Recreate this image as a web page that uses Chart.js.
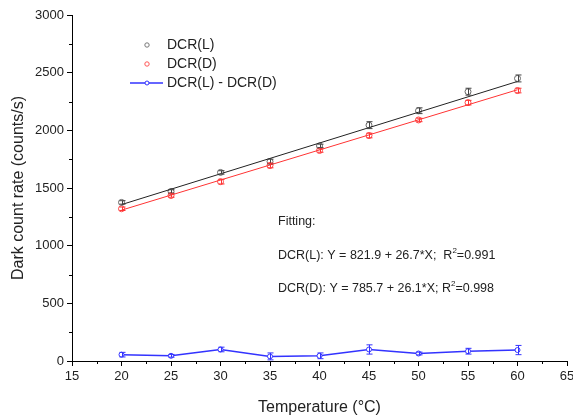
<!DOCTYPE html>
<html><head><meta charset="utf-8">
<script src="https://cdn.jsdelivr.net/npm/chart.js@4"></script>
<style>html,body{margin:0;padding:0;background:#fff}#wrap{width:573px;height:417px}</style>
</head><body><div id="wrap"><canvas id="c" width="573" height="417"></canvas></div>
<script>
const temperatures = [20, 25, 30, 35, 40, 45, 50, 55, 60];
const dcrL = [1375, 1470, 1635, 1730, 1865, 2045, 2170, 2335, 2450];
const dcrLErr = [15, 15, 15, 20, 15, 30, 25, 30, 30];
const dcrD = [1320, 1435, 1555, 1695, 1825, 1955, 2090, 2240, 2345];
const dcrDErr = [15, 15, 20, 20, 15, 20, 15, 20, 20];
const diff = [55, 45, 100, 40, 45, 100, 65, 85, 95];
const diffErr = [20, 12, 20, 30, 25, 40, 12, 25, 40];
const fitX = [20, 60];
const fitL = [1356, 2424];
const fitD = [1308, 2352];
const xTicks = [15, 20, 25, 30, 35, 40, 45, 50, 55, 60, 65];
const yTicks = [0, 500, 1000, 1500, 2000, 2500, 3000];
const legendLabels = ['DCR(L)', 'DCR(D)', 'DCR(L) - DCR(D)'];
const fitTexts = ['Fitting:', 'DCR(L): Y = 821.9 + 26.7*X;  R', 'DCR(D): Y = 785.7 + 26.1*X; R'];
const r2Values = ['=0.991', '=0.998'];

const FONT = 'Liberation Sans, Arial, sans-serif';
const pts = (xs, ys) => xs.map((x, i) => ({x: x, y: ys[i]}));

const errorPlugin = {
  id: 'extras',
  afterDatasetsDraw(chart) {
    const ctx = chart.ctx, xs = chart.scales.x, ys = chart.scales.y;
    const sets = [[dcrL, dcrLErr, '#444'], [dcrD, dcrDErr, '#ff3333'], [diff, diffErr, '#3333ff']];
    ctx.save();
    ctx.lineWidth = 1;
    sets.forEach(([vals, errs, col]) => {
      ctx.strokeStyle = col;
      vals.forEach((v, i) => {
        const px = Math.round(xs.getPixelForValue(temperatures[i])) + 0.5;
        const t = ys.getPixelForValue(v + errs[i]), b = ys.getPixelForValue(v - errs[i]);
        ctx.beginPath();
        ctx.moveTo(px, t); ctx.lineTo(px, b);
        ctx.moveTo(px - 3, t); ctx.lineTo(px + 3, t);
        ctx.moveTo(px - 3, b); ctx.lineTo(px + 3, b);
        ctx.stroke();
      });
    });
    // minor ticks
    ctx.strokeStyle = '#000';
    for (let v = 250; v < 3000; v += 500) {
      const py = Math.round(ys.getPixelForValue(v)) + 0.5;
      ctx.beginPath(); ctx.moveTo(xs.left - 3, py); ctx.lineTo(xs.left, py); ctx.stroke();
    }
    for (let v = 17.5; v < 65; v += 5) {
      const px = Math.round(xs.getPixelForValue(v)) + 0.5;
      ctx.beginPath(); ctx.moveTo(px, ys.bottom); ctx.lineTo(px, ys.bottom + 3); ctx.stroke();
    }
    // legend
    ctx.font = '14px ' + FONT;
    ctx.fillStyle = '#222';
    ctx.textBaseline = 'middle';
    const ly = [45, 64, 83];
    legendLabels.forEach((l, i) => ctx.fillText(l, 167, ly[i]));
    ctx.lineWidth = 1;
    ctx.strokeStyle = '#777';
    ctx.beginPath(); ctx.arc(147, ly[0], 2.2, 0, Math.PI * 2); ctx.stroke();
    ctx.strokeStyle = '#ff5555';
    ctx.beginPath(); ctx.arc(147, ly[1], 2.2, 0, Math.PI * 2); ctx.stroke();
    ctx.strokeStyle = '#3333ff';
    ctx.lineWidth = 1.5;
    ctx.beginPath(); ctx.moveTo(130, ly[2]); ctx.lineTo(163, ly[2]); ctx.stroke();
    ctx.lineWidth = 1;
    ctx.fillStyle = '#fff';
    ctx.beginPath(); ctx.arc(147, ly[2], 2, 0, Math.PI * 2); ctx.fill(); ctx.stroke();
    // fitting text
    ctx.fillStyle = '#222';
    const FS = 12.5;
    ctx.font = FS + 'px ' + FONT;
    ctx.fillText(fitTexts[0], 278, 222);
    const fy = [256, 289];
    [1, 2].forEach((k, j) => {
      ctx.font = FS + 'px ' + FONT;
      const w = ctx.measureText(fitTexts[k]).width;
      ctx.fillText(fitTexts[k], 278, fy[j]);
      ctx.font = '8px ' + FONT;
      ctx.fillText('2', 278 + w, fy[j] - 5);
      const w2 = ctx.measureText('2').width;
      ctx.font = FS + 'px ' + FONT;
      ctx.fillText(r2Values[j], 278 + w + w2, fy[j]);
    });
    ctx.restore();
  }
};

new Chart(document.getElementById('c'), {
  type: 'scatter',
  data: {
    datasets: [
      {label: 'fitL', data: pts(fitX, fitL), showLine: true, borderColor: '#222', borderWidth: 1, pointRadius: 0},
      {label: 'fitD', data: pts(fitX, fitD), showLine: true, borderColor: '#ff3333', borderWidth: 1, pointRadius: 0},
      {label: legendLabels[0], data: pts(temperatures, dcrL), showLine: false, borderColor: '#666', backgroundColor: 'rgba(0,0,0,0)', borderWidth: 1, pointRadius: 3},
      {label: legendLabels[1], data: pts(temperatures, dcrD), showLine: false, borderColor: '#ff4444', backgroundColor: 'rgba(0,0,0,0)', borderWidth: 1, pointRadius: 3},
      {label: legendLabels[2], data: pts(temperatures, diff), showLine: true, borderColor: '#3333ff', borderWidth: 1.5, pointBorderWidth: 1, backgroundColor: '#fff', pointBackgroundColor: '#fff', pointRadius: 2.5}
    ]
  },
  options: {
    responsive: false,
    animation: false,
    devicePixelRatio: 1,
    layout: {padding: {top: 15, right: 6, left: 0, bottom: 0}},
    plugins: {legend: {display: false}, tooltip: {enabled: false}},
    scales: {
      x: {
        type: 'linear', min: 15, max: 65,
        afterBuildTicks: s => { s.ticks = xTicks.map(v => ({value: v})); },
        ticks: {color: '#222', font: {size: 13, family: FONT}, padding: 3, maxRotation: 0, autoSkip: false, callback: v => String(v)},
        grid: {drawOnChartArea: false, tickLength: 5, color: '#000', tickColor: '#000'},
        border: {color: '#000', width: 1},
        title: {display: true, text: 'Temperature (\u00B0C)', color: '#222', font: {size: 16, family: FONT}, padding: {top: 4, bottom: 0}},
        afterFit: s => { s.height = 56; s.paddingLeft = 0; s.paddingRight = 0; }
      },
      y: {
        min: 0, max: 3000,
        afterBuildTicks: s => { s.ticks = yTicks.map(v => ({value: v})); },
        ticks: {color: '#222', font: {size: 13, family: FONT}, padding: 3, callback: v => String(v)},
        grid: {drawOnChartArea: false, tickLength: 5, color: '#000', tickColor: '#000'},
        border: {color: '#000', width: 1},
        title: {display: true, text: 'Dark count rate (counts/s)', color: '#222', font: {size: 16, family: FONT}, padding: {top: 9, bottom: 2}},
        afterFit: s => { s.width = 72; s.paddingTop = 0; s.paddingBottom = 0; }
      }
    }
  },
  plugins: [errorPlugin]
});
</script>
</body></html>
